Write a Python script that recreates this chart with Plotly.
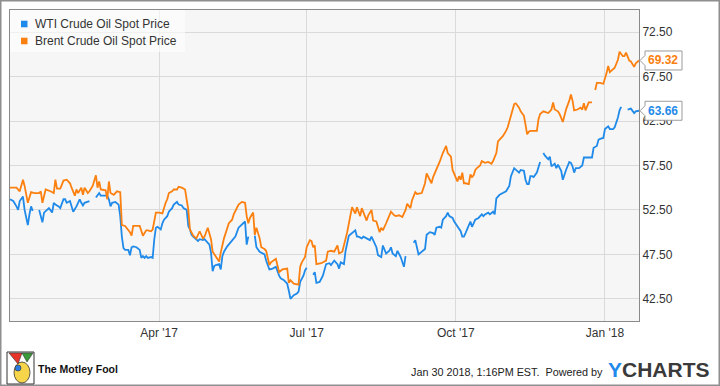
import plotly.graph_objects as go

# ---------------- data ----------------
series_names = ["WTI Crude Oil Spot Price", "Brent Crude Oil Spot Price"]

wti_dates = [
    "2016-12-30", "2017-01-01", "2017-01-03", "2017-01-04", "2017-01-05", "2017-01-07", "2017-01-08",
    "2017-01-09", "2017-01-10", "2017-01-11", "2017-01-12", "2017-01-13", "2017-01-15", "2017-01-17",
    "2017-01-19", "2017-01-20", "2017-01-22", "2017-01-23", "2017-01-25", "2017-01-26", "2017-01-27",
    "2017-01-29", "2017-01-30", "2017-02-01", "2017-02-02", "2017-02-03", "2017-02-05", "2017-02-06",
    "2017-02-07", "2017-02-09", "2017-02-11", "2017-02-12", "2017-02-13", "2017-02-14", "2017-02-16",
    "2017-02-17", "2017-02-19", "2017-02-21", "2017-02-22", "2017-02-23", "2017-02-24", "2017-02-25",
    "2017-02-28", "2017-03-01", "2017-03-02", "2017-03-03", "2017-03-05", "2017-03-07", "2017-03-08",
    "2017-03-09", "2017-03-10", "2017-03-11", "2017-03-13", "2017-03-14", "2017-03-15", "2017-03-16",
    "2017-03-18", "2017-03-20", "2017-03-21", "2017-03-22", "2017-03-23", "2017-03-24", "2017-03-25",
    "2017-03-27", "2017-03-28", "2017-03-29", "2017-03-30", "2017-03-31", "2017-04-02", "2017-04-03",
    "2017-04-04", "2017-04-06", "2017-04-07", "2017-04-09", "2017-04-10", "2017-04-12", "2017-04-13",
    "2017-04-15", "2017-04-16", "2017-04-18", "2017-04-19", "2017-04-20", "2017-04-21", "2017-04-22",
    "2017-04-24", "2017-04-25", "2017-04-26", "2017-04-28", "2017-04-29", "2017-04-30", "2017-05-02",
    "2017-05-03", "2017-05-04", "2017-05-05", "2017-05-06", "2017-05-08", "2017-05-09", "2017-05-10",
    "2017-05-11", "2017-05-13", "2017-05-14", "2017-05-16", "2017-05-18", "2017-05-20", "2017-05-21",
    "2017-05-23", "2017-05-24", "2017-05-25", "2017-05-26", "2017-05-28", "2017-05-30", "2017-05-31",
    "2017-06-02", "2017-06-04", "2017-06-05", "2017-06-06", "2017-06-08", "2017-06-10", "2017-06-12",
    "2017-06-14", "2017-06-15", "2017-06-17", "2017-06-19", "2017-06-20", "2017-06-21", "2017-06-23",
    "2017-06-25", "2017-06-26", "2017-06-27", "2017-06-29", "2017-06-30", "2017-07-01", "2017-07-03",
    "2017-07-05", "2017-07-06", "2017-07-07", "2017-07-09", "2017-07-11", "2017-07-13", "2017-07-15",
    "2017-07-16", "2017-07-18", "2017-07-20", "2017-07-21", "2017-07-22", "2017-07-24", "2017-07-25",
    "2017-07-27", "2017-07-30", "2017-07-31", "2017-08-01", "2017-08-02", "2017-08-04", "2017-08-05",
    "2017-08-07", "2017-08-09", "2017-08-10", "2017-08-13", "2017-08-14", "2017-08-16", "2017-08-17",
    "2017-08-19", "2017-08-21", "2017-08-22", "2017-08-23", "2017-08-25", "2017-08-26", "2017-08-28",
    "2017-08-30", "2017-08-31", "2017-09-02", "2017-09-05", "2017-09-06", "2017-09-08", "2017-09-10",
    "2017-09-12", "2017-09-13", "2017-09-15", "2017-09-17", "2017-09-18", "2017-09-19", "2017-09-21",
    "2017-09-22", "2017-09-23", "2017-09-25", "2017-09-26", "2017-09-27", "2017-09-29", "2017-09-30",
    "2017-10-02", "2017-10-03", "2017-10-04", "2017-10-05", "2017-10-06", "2017-10-07", "2017-10-10",
    "2017-10-11", "2017-10-13", "2017-10-15", "2017-10-17", "2017-10-18", "2017-10-19", "2017-10-21",
    "2017-10-22", "2017-10-24", "2017-10-25", "2017-10-26", "2017-10-28", "2017-10-30", "2017-11-01",
    "2017-11-03", "2017-11-04", "2017-11-06", "2017-11-07", "2017-11-09", "2017-11-10", "2017-11-12",
    "2017-11-13", "2017-11-14", "2017-11-15", "2017-11-16", "2017-11-17", "2017-11-18", "2017-11-20",
    "2017-11-21", "2017-11-22", "2017-11-23", "2017-11-24", "2017-11-25", "2017-11-27", "2017-11-28",
    "2017-11-29", "2017-12-01", "2017-12-02", "2017-12-03", "2017-12-05", "2017-12-06", "2017-12-08",
    "2017-12-10", "2017-12-11", "2017-12-12", "2017-12-13", "2017-12-14", "2017-12-16", "2017-12-18",
    "2017-12-19", "2017-12-21", "2017-12-23", "2017-12-24", "2017-12-25", "2017-12-27", "2017-12-28",
    "2017-12-29", "2017-12-31", "2018-01-01", "2018-01-03", "2018-01-04", "2018-01-06", "2018-01-07",
    "2018-01-09", "2018-01-10", "2018-01-11", "2018-01-13", "2018-01-15", "2018-01-17", "2018-01-19",
    "2018-01-20", "2018-01-22",
]
wti_values = [
    53.7, 53.5, 52.9, 52.5, 53.5, 54.0, 52.5,
    51.8, 50.8, 52.0, 52.9, 52.4, None, 52.5,
    51.1, 52.2, 52.5, 52.7, 52.2, 53.3, 53.1,
    52.9, 52.7, 53.7, 53.7, 53.3, 53.5, 52.9,
    52.3, 52.9, 53.7, 53.3, 53.0, 53.3, 53.4,
    53.5, None, 53.9, 54.1, 54.4, 54.1, 54.1,
    54.1, 53.7, 52.9, 53.3, 53.4, 53.1, 51.8,
    49.5, 48.2, 48.0, 48.0, 47.4, 48.3, 48.4,
    48.3, 48.0, 47.1, 47.3, 47.1, 47.3, 47.1,
    47.2, 47.1, 49.2, 50.5, 50.6, 50.3, 51.0,
    51.4, 51.8, 52.3, 52.7, 53.1, 53.4, 53.1,
    53.0, 52.7, 52.5, 50.7, 50.3, 49.7, 49.5,
    49.2, 49.0, 49.2, 49.1, 49.2, 49.0, 48.6,
    47.7, 45.6, 46.2, 46.3, 46.4, 45.8, 47.3,
    47.8, 48.4, 48.6, 49.0, 49.5, 50.5, 50.7,
    51.1, 51.2, 48.6, 49.5, None, 49.6, 48.3,
    47.8, 47.6, 47.5, 46.8, 45.8, 45.9, 46.1,
    45.1, 44.8, 44.6, 44.2, 43.4, 42.5, 42.9,
    43.1, 43.3, 44.4, 45.1, 45.7, 46.0, None,
    45.2, 45.5, 44.3, 44.4, 45.1, 46.4, 46.5,
    46.3, 46.8, 46.4, 45.9, 46.6, 46.4, 47.9,
    49.6, 50.0, 50.2, 49.5, 49.5, 49.3, 49.5,
    49.3, 49.1, 49.5, 48.3, 47.4, 47.2, 48.5,
    47.6, 47.9, 48.3, 47.6, 47.3, 47.9, 47.2,
    46.1, 47.3, None, 48.8, 49.1, 47.5, 47.8,
    48.1, 49.7, 50.0, 49.9, 49.7, 50.5, 50.6,
    50.5, 51.4, 51.8, 52.2, 51.8, 51.6, 51.2,
    50.6, 50.3, 50.1, 49.5, 49.5, 49.9, 51.2,
    50.6, 51.4, 51.6, 52.0, 51.8, 52.0, 52.2,
    52.0, 52.3, 52.0, 53.8, 54.2, 54.4, 54.6,
    55.2, 56.3, 57.2, 57.0, 56.7, 57.0, 56.9,
    55.9, 55.4, 55.4, 56.3, 56.3, 56.2, 56.7,
    57.4, 57.9, None, 58.9, 58.6, 58.2, 58.5,
    57.4, 57.7, 57.2, 57.6, 56.9, 55.9, 57.0,
    57.9, 57.8, 57.4, 56.7, 57.2, 57.2, 57.5,
    58.4, 58.4, 58.4, 58.4, 59.5, 59.7, 60.4,
    60.5, 60.6, 61.6, 61.9, 61.6, 61.6, 61.8,
    62.9, 63.7, 64.1, None, 63.8, 63.9, 63.4,
    63.6, 63.66,
]

brent_dates = [
    "2016-12-30", "2017-01-03", "2017-01-05", "2017-01-07", "2017-01-08", "2017-01-10", "2017-01-12",
    "2017-01-14", "2017-01-17", "2017-01-18", "2017-01-19", "2017-01-21", "2017-01-24", "2017-01-26",
    "2017-01-27", "2017-01-28", "2017-01-30", "2017-02-01", "2017-02-03", "2017-02-05", "2017-02-06",
    "2017-02-08", "2017-02-09", "2017-02-10", "2017-02-12", "2017-02-13", "2017-02-14", "2017-02-16",
    "2017-02-17", "2017-02-19", "2017-02-21", "2017-02-22", "2017-02-23", "2017-02-24", "2017-02-27",
    "2017-02-28", "2017-03-01", "2017-03-02", "2017-03-04", "2017-03-06", "2017-03-08", "2017-03-09",
    "2017-03-11", "2017-03-13", "2017-03-14", "2017-03-15", "2017-03-16", "2017-03-18", "2017-03-20",
    "2017-03-22", "2017-03-24", "2017-03-25", "2017-03-27", "2017-03-28", "2017-03-29", "2017-03-30",
    "2017-04-01", "2017-04-03", "2017-04-05", "2017-04-06", "2017-04-07", "2017-04-09", "2017-04-10",
    "2017-04-12", "2017-04-13", "2017-04-15", "2017-04-17", "2017-04-18", "2017-04-19", "2017-04-20",
    "2017-04-22", "2017-04-24", "2017-04-26", "2017-04-28", "2017-04-29", "2017-05-01", "2017-05-03",
    "2017-05-04", "2017-05-06", "2017-05-08", "2017-05-09", "2017-05-11", "2017-05-14", "2017-05-16",
    "2017-05-17", "2017-05-19", "2017-05-20", "2017-05-22", "2017-05-24", "2017-05-25", "2017-05-26",
    "2017-05-27", "2017-05-29", "2017-05-30", "2017-05-31", "2017-06-02", "2017-06-03", "2017-06-05",
    "2017-06-06", "2017-06-08", "2017-06-09", "2017-06-12", "2017-06-14", "2017-06-16", "2017-06-19",
    "2017-06-20", "2017-06-21", "2017-06-23", "2017-06-26", "2017-06-27", "2017-06-28", "2017-06-30",
    "2017-07-01", "2017-07-03", "2017-07-04", "2017-07-05", "2017-07-06", "2017-07-07", "2017-07-10",
    "2017-07-13", "2017-07-14", "2017-07-16", "2017-07-18", "2017-07-20", "2017-07-21", "2017-07-23",
    "2017-07-25", "2017-07-26", "2017-07-28", "2017-07-29", "2017-07-31", "2017-08-01", "2017-08-03",
    "2017-08-04", "2017-08-07", "2017-08-08", "2017-08-10", "2017-08-11", "2017-08-13", "2017-08-15",
    "2017-08-16", "2017-08-17", "2017-08-19", "2017-08-22", "2017-08-24", "2017-08-25", "2017-08-27",
    "2017-08-29", "2017-08-31", "2017-09-01", "2017-09-03", "2017-09-04", "2017-09-06", "2017-09-07",
    "2017-09-10", "2017-09-12", "2017-09-13", "2017-09-14", "2017-09-16", "2017-09-17", "2017-09-19",
    "2017-09-21", "2017-09-23", "2017-09-25", "2017-09-26", "2017-09-28", "2017-09-29", "2017-10-01",
    "2017-10-02", "2017-10-03", "2017-10-04", "2017-10-05", "2017-10-06", "2017-10-07", "2017-10-09",
    "2017-10-10", "2017-10-11", "2017-10-12", "2017-10-13", "2017-10-14", "2017-10-16", "2017-10-17",
    "2017-10-19", "2017-10-21", "2017-10-23", "2017-10-24", "2017-10-26", "2017-10-27", "2017-10-28",
    "2017-10-30", "2017-11-01", "2017-11-02", "2017-11-04", "2017-11-06", "2017-11-07", "2017-11-09",
    "2017-11-10", "2017-11-12", "2017-11-13", "2017-11-14", "2017-11-15", "2017-11-16", "2017-11-18",
    "2017-11-20", "2017-11-21", "2017-11-22", "2017-11-24", "2017-11-26", "2017-11-27", "2017-11-28",
    "2017-11-29", "2017-11-30", "2017-12-01", "2017-12-03", "2017-12-04", "2017-12-06", "2017-12-08",
    "2017-12-10", "2017-12-11", "2017-12-12", "2017-12-13", "2017-12-15", "2017-12-17", "2017-12-18",
    "2017-12-19", "2017-12-20", "2017-12-22", "2017-12-23", "2017-12-24", "2017-12-25", "2017-12-26",
    "2017-12-27", "2017-12-29", "2017-12-31", "2018-01-02", "2018-01-03", "2018-01-04", "2018-01-06",
    "2018-01-07", "2018-01-09", "2018-01-10", "2018-01-12", "2018-01-13", "2018-01-14", "2018-01-16",
    "2018-01-17", "2018-01-19", "2018-01-20", "2018-01-22",
]
brent_values = [
    55.0, 55.0, 54.6, 55.9, 55.2, 53.3, 54.5,
    54.4, 54.4, 54.6, 53.3, 54.8, 54.6, 54.4,
    55.9, 54.9, 54.9, 55.8, 55.9, 55.5, 55.0,
    54.1, 54.8, 54.4, 55.0, 54.2, 55.0, 54.4,
    54.6, 55.2, 56.4, 55.0, 55.7, 54.8, 54.7,
    53.7, 55.7, 54.4, 54.2, 54.6, 54.5, 50.8,
    50.7, 50.2, 50.0, 49.6, 50.7, 50.7, 50.7,
    49.6, 50.2, 50.2, 50.1, 50.3, 51.4, 52.2,
    52.2, 52.1, 53.3, 53.7, 54.4, 54.6, 54.8,
    54.8, 55.1, 55.0, 54.8, 53.7, 52.5, 50.3,
    49.6, 49.3, 50.1, 49.3, 49.5, 50.5, 49.2,
    47.8, 47.3, 46.7, 47.7, 49.3, 51.0, 51.4,
    52.0, 52.7, 53.1, 53.4, 53.3, 51.8, 51.0,
    51.6, 52.2, 49.7, 50.5, 49.3, 48.3, 48.1,
    47.9, 46.3, 46.6, 47.0, 45.5, 45.8, 45.9,
    44.3, 44.6, 44.2, 44.1, 46.1, 46.6, 47.2,
    48.3, 49.1, 49.0, 48.3, 48.5, 46.4, 46.5,
    46.8, 47.8, 47.9, 47.8, 48.5, 47.6, 47.8,
    49.1, 50.0, 51.9, 52.8, 52.1, 52.8, 51.8,
    52.7, 51.3, 51.9, 52.5, 51.3, 51.2, 50.0,
    50.5, 50.2, 51.0, 52.3, 51.9, 51.8, 51.9,
    51.7, 52.5, 53.2, 52.7, 53.6, 54.5, 54.3,
    54.4, 55.5, 56.6, 56.2, 55.5, 56.2, 57.0,
    57.9, 58.9, 59.7, 58.9, 58.5, 57.0, 56.2,
    55.7, 56.3, 55.9, 56.7, 55.5, 55.5, 55.4,
    56.5, 56.2, 56.4, 57.0, 57.2, 57.5, 58.0,
    57.8, 57.9, 57.7, 58.0, 58.9, 60.2, 60.4,
    60.8, 61.4, 61.8, 63.1, 64.4, 64.5, 64.0,
    63.6, 63.1, 62.1, 61.0, 61.3, 61.4, 61.4,
    61.4, 62.7, 63.3, 63.6, 63.5, 63.4, 63.6,
    63.8, 64.6, 63.8, 63.6, 63.3, 62.4, 63.8,
    64.8, 65.5, 64.8, 63.7, 63.8, 64.0, 63.8,
    64.5, 63.7, 64.6, 64.6, 64.6, None, 66.0,
    66.8, 66.8, 66.7, 67.9, 68.7, 68.0, 68.3,
    68.5, 69.4, 70.3, 69.8, 69.8, 70.2, 69.3,
    69.2, 68.6, 69.0, 69.32,
]

last_values = [63.66, 69.32]
last_labels = ["63.66", "69.32"]

y_ticks = [42.5, 47.5, 52.5, 57.5, 62.5, 67.5, 72.5]
y_tick_labels = ["42.50", "47.50", "52.50", "57.50", "62.50", "67.50", "72.50"]
y_range = [40, 75]

x_ticks = ["2017-04-01", "2017-07-01", "2017-10-01", "2018-01-01"]
x_tick_labels = ["Apr '17", "Jul '17", "Oct '17", "Jan '18"]
x_range = ["2016-12-30", "2018-01-22"]

footer_text = "Jan 30 2018, 1:16PM EST.\u00a0 Powered by"
brand_text = "The Motley Fool"

# ---------------- style / layout ----------------
W, H = 720, 386
ML, MT, MR, MB = 10, 10, 81, 65
PW = W - ML - MR
PH = H - MT - MB

def px(x):
    return (x - ML) / PW

def py(y):
    return 1 - (y - MT) / PH

FONT = "Arial, Liberation Sans, Helvetica, sans-serif"
COLORS = ["#1f8ae9", "#fb800f"]
TXT = "#333333"

fig = go.Figure()
for dates, vals, col, name in [(wti_dates, wti_values, COLORS[0], series_names[0]),
                                (brent_dates, brent_values, COLORS[1], series_names[1])]:
    fig.add_trace(go.Scatter(x=dates, y=vals, mode="lines", name=name,
                             line=dict(color=col, width=1.8), connectgaps=False,
                             showlegend=False, hoverinfo="skip"))

shapes = []
annotations = []

# legend box (semi transparent) + squares + labels
shapes.append(dict(type="rect", xref="paper", yref="paper", x0=px(ML), x1=px(185), y0=py(52), y1=py(MT),
                   fillcolor="rgba(255,255,255,0.6)", line=dict(width=0), layer="above"))
for i, name in enumerate(series_names):
    cy = 24 + 17 * i
    shapes.append(dict(type="rect", xref="paper", yref="paper", x0=px(21), x1=px(27.5), y0=py(cy + 3.3),
                       y1=py(cy - 3.3), fillcolor=COLORS[i], line=dict(width=0), layer="above"))
    annotations.append(dict(text=name, xref="paper", yref="paper", x=px(32.5), y=py(cy), xanchor="left",
                            yanchor="middle", showarrow=False, font=dict(family=FONT, size=12, color=TXT)))

# last value callouts
for i in range(2):
    ya = (last_values[i] - y_range[0]) / (y_range[1] - y_range[0])
    shapes.append(dict(type="path", xref="paper", yref="paper", xsizemode="pixel", ysizemode="pixel",
                       xanchor=1, yanchor=ya,
                       path="M 1,0 L 6,5 L 6,9.5 L 43,9.5 L 43,-9.5 L 6,-9.5 L 6,-5 Z",
                       fillcolor="white", line=dict(color="#9a9a9a", width=1), layer="above"))
    annotations.append(dict(text="<b>" + last_labels[i] + "</b>", xref="paper", yref="y", x=1,
                            y=last_values[i], xanchor="left", yanchor="middle", xshift=7, showarrow=False,
                            font=dict(family=FONT, size=12, color=COLORS[i])))

# outer frame
shapes.append(dict(type="rect", xref="paper", yref="paper", x0=px(0.75), x1=px(W - 0.75), y0=py(H - 0.75),
                   y1=py(0.75), line=dict(color="#8f8f8f", width=1.5), fillcolor="rgba(0,0,0,0)"))

# footer
annotations.append(dict(text=footer_text, xref="paper", yref="paper", x=px(605), y=py(372), xanchor="right",
                        yanchor="middle", showarrow=False, font=dict(family=FONT, size=10.8, color="#222")))
annotations.append(dict(text="<b><span style='color:#1f8ae9'>Y</span>CHARTS</b>", xref="paper", yref="paper",
                        x=px(606), y=py(369), xanchor="left", yanchor="middle", showarrow=False,
                        font=dict(family=FONT, size=21, color="#3a3a3a")))
annotations.append(dict(text="<b>" + brand_text + "</b>", xref="paper", yref="paper", x=px(36), y=py(369),
                        xanchor="left", yanchor="middle", showarrow=False,
                        font=dict(family=FONT, size=10.5, color="#111")))
# simple jester icon
shapes.append(dict(type="rect", xref="paper", yref="paper", x0=px(7), x1=px(34), y0=py(384), y1=py(352),
                   fillcolor="white", line=dict(color="#333", width=1)))
shapes.append(dict(type="circle", xref="paper", yref="paper", x0=px(14), x1=px(30), y0=py(383), y1=py(362),
                   fillcolor="#f6d54a", line=dict(color="#333", width=0.8)))
shapes.append(dict(type="path", xref="paper", yref="paper", xsizemode="pixel", ysizemode="pixel",
                   xanchor=px(8), yanchor=py(352),
                   path="M 1,-1 L 14,-1 L 10,-12 Z", fillcolor="#e8352a", line=dict(color="#333", width=0.6)))
shapes.append(dict(type="path", xref="paper", yref="paper", xsizemode="pixel", ysizemode="pixel",
                   xanchor=px(8), yanchor=py(352),
                   path="M 14,-1 L 25,-1 L 19,-10 Z", fillcolor="#3a9a3a", line=dict(color="#333", width=0.6)))
shapes.append(dict(type="circle", xref="paper", yref="paper", x0=px(15), x1=px(21), y0=py(371), y1=py(365),
                   fillcolor="#2b7be0", line=dict(color="#333", width=0.6)))

axis_common = dict(showgrid=True, gridcolor="#dadada", gridwidth=1, zeroline=False, showline=True,
                   linecolor="#8a8a8a", linewidth=1, mirror=True, ticks="",
                   tickfont=dict(family=FONT, size=12, color=TXT), fixedrange=True)

fig.update_layout(
    width=W, height=H,
    margin=dict(l=ML, r=MR, t=MT, b=MB, pad=0),
    paper_bgcolor="white", plot_bgcolor="#f6f6f6",
    showlegend=False,
    xaxis=dict(type="date", range=x_range, tickvals=x_ticks, ticktext=x_tick_labels,
               ticklabelstandoff=1, **axis_common),
    yaxis=dict(range=y_range, side="right", tickvals=y_ticks, ticktext=y_tick_labels, **axis_common),
    shapes=shapes, annotations=annotations,
)

fig.write_html("out.html", config={"displayModeBar": False, "staticPlot": True},
               post_script="document.body.style.margin='0';document.body.style.overflow='hidden';")
